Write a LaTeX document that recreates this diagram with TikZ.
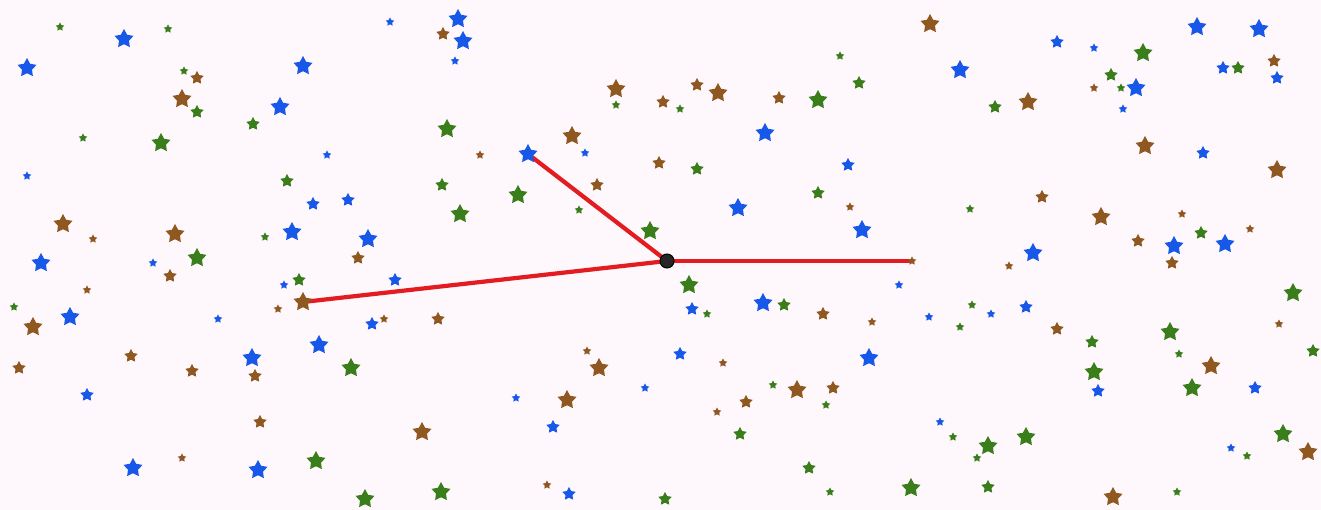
\documentclass[tikz,border=0pt]{standalone}
\usetikzlibrary{shapes.geometric}
\definecolor{cB}{RGB}{24,88,232}
\definecolor{cG}{RGB}{58,126,28}
\definecolor{cN}{RGB}{143,88,32}
\definecolor{bgpink}{RGB}{254,248,252}
\definecolor{lred}{RGB}{226,28,32}
\pgfdeclarelayer{back}
\pgfdeclarelayer{lines}
\pgfsetlayers{back,lines,main}
\tikzset{
  st/.style={star, star points=5, star point ratio=1.9, inner sep=0pt, draw=none},
  redline/.style={draw=lred, line width=4.2pt},
  hub/.style={circle, fill=black!85, draw=black, line width=1pt, minimum size=14pt, inner sep=0pt}
}
\begin{document}
\begin{tikzpicture}[x=1pt,y=-1pt]
\begin{pgfonlayer}{back}
\fill[bgpink] (0,0) rectangle (1321,510);
\end{pgfonlayer}
\useasboundingbox (0,0) rectangle (1321,510);
% stars
\foreach \x/\y/\c/\s [count=\i] in {
124/39/cB/20, 27/68/cB/20, 390/22/cB/9, 458/19/cB/20, 463/41/cB/20, 455/61/cB/9,
303/66/cB/20, 280/107/cB/20, 327/155/cB/9, 27/176/cB/9, 313/204/cB/14, 292/232/cB/20,
153/263/cB/9, 41/263/cB/20, 284/285/cB/9, 70/317/cB/20, 218/319/cB/9, 319/345/cB/20,
348/200/cB/14, 368/239/cB/20, 395/280/cB/14, 372/324/cB/14, 252/358/cB/20,
87/395/cB/14, 133/468/cB/20, 258/470/cB/20, 516/398/cB/9, 553/427/cB/14, 569/494/cB/14,
645/388/cB/9, 585/153/cB/9, 765/133/cB/20, 848/165/cB/14, 738/208/cB/20,
862/230/cB/20, 692/309/cB/14, 763/303/cB/20, 899/285/cB/9, 929/317/cB/9, 991/314/cB/9,
680/354/cB/14, 869/358/cB/20, 940/422/cB/9, 960/70/cB/20, 1057/42/cB/14, 1094/48/cB/9,
1197/27/cB/20, 1259/29/cB/20, 1223/68/cB/14, 1277/78/cB/14, 1136/88/cB/20, 1123/109/cB/9,
1203/153/cB/14, 1174/246/cB/20, 1225/244/cB/20, 1033/253/cB/20, 1026/307/cB/14,
1098/391/cB/14, 1255/388/cB/14, 1231/448/cB/9,
60/27/cG/9, 168/29/cG/9, 184/71/cG/9, 197/112/cG/14, 253/124/cG/14, 161/143/cG/20,
83/138/cG/9, 287/181/cG/14, 265/237/cG/9, 197/258/cG/20, 14/307/cG/9, 299/280/cG/14,
351/368/cG/20, 316/461/cG/20, 365/499/cG/20, 441/492/cG/20, 442/185/cG/14, 518/195/cG/20,
460/214/cG/20, 447/129/cG/20, 579/210/cG/9, 650/231/cG/20, 616/105/cG/9, 680/109/cG/9,
697/169/cG/14, 818/100/cG/20, 840/56/cG/9, 859/83/cG/14, 818/193/cG/14, 970/209/cG/9,
689/285/cG/20, 707/314/cG/9, 784/305/cG/14, 972/305/cG/9, 960/327/cG/9, 773/385/cG/9,
826/405/cG/9, 740/434/cG/14, 953/437/cG/9, 988/446/cG/20, 977/458/cG/9, 809/468/cG/14,
830/492/cG/9, 911/488/cG/20, 988/487/cG/14, 665/499/cG/14, 995/107/cG/14, 1143/53/cG/20,
1111/75/cG/14, 1121/88/cG/9, 1238/68/cG/14, 1201/233/cG/14, 1293/293/cG/20, 1170/332/cG/20,
1092/342/cG/14, 1094/372/cG/20, 1179/354/cG/9, 1192/388/cG/20, 1313/351/cG/14, 1283/434/cG/20,
1026/437/cG/20, 1247/456/cG/9, 1177/492/cG/9,
197/78/cN/14, 182/99/cN/20, 63/224/cN/20, 93/239/cN/9, 175/234/cN/20, 170/276/cN/14,
87/290/cN/9, 33/327/cN/20, 278/309/cN/9, 358/258/cN/14, 384/319/cN/9, 438/319/cN/14,
19/368/cN/14, 131/356/cN/14, 192/371/cN/14, 255/376/cN/14, 260/422/cN/14, 182/458/cN/9,
443/34/cN/14, 480/155/cN/9, 572/136/cN/20, 616/89/cN/20, 663/102/cN/14, 597/185/cN/14,
659/163/cN/14, 697/85/cN/14, 718/93/cN/20, 779/98/cN/14, 930/24/cN/20, 850/207/cN/9,
823/314/cN/14, 872/322/cN/9, 587/351/cN/9, 599/368/cN/20, 567/400/cN/20, 422/432/cN/20,
547/485/cN/9, 723/363/cN/9, 797/390/cN/20, 833/388/cN/14, 746/402/cN/14, 717/412/cN/9,
1028/102/cN/20, 1094/88/cN/9, 1274/61/cN/14, 1145/146/cN/20, 1277/170/cN/20, 1042/197/cN/14,
1101/217/cN/20, 1182/214/cN/9, 1250/229/cN/9, 1138/241/cN/14, 1172/263/cN/14, 1009/266/cN/9,
1057/329/cN/14, 1279/324/cN/9, 1211/366/cN/20, 1308/452/cN/20, 1113/497/cN/20}
  \node[st, fill=\c, minimum size=\s pt] (s\i) at (\x,\y) {};
% line endpoints
\node[st, fill=cB, minimum size=20pt] (pA) at (528,154) {};
\node[st, fill=cN, minimum size=20pt] (pB) at (303,302) {};
\node[st, fill=cN, minimum size=9pt] (pC) at (912,261) {};
\node[hub] (hub) at (667,261) {};
\begin{pgfonlayer}{lines}
\draw[redline] (hub.center) -- (pA.center);
\draw[redline] (hub.center) -- (pB.center);
\draw[redline] (hub.center) -- (pC.center);
\end{pgfonlayer}
\end{tikzpicture}
\end{document}
